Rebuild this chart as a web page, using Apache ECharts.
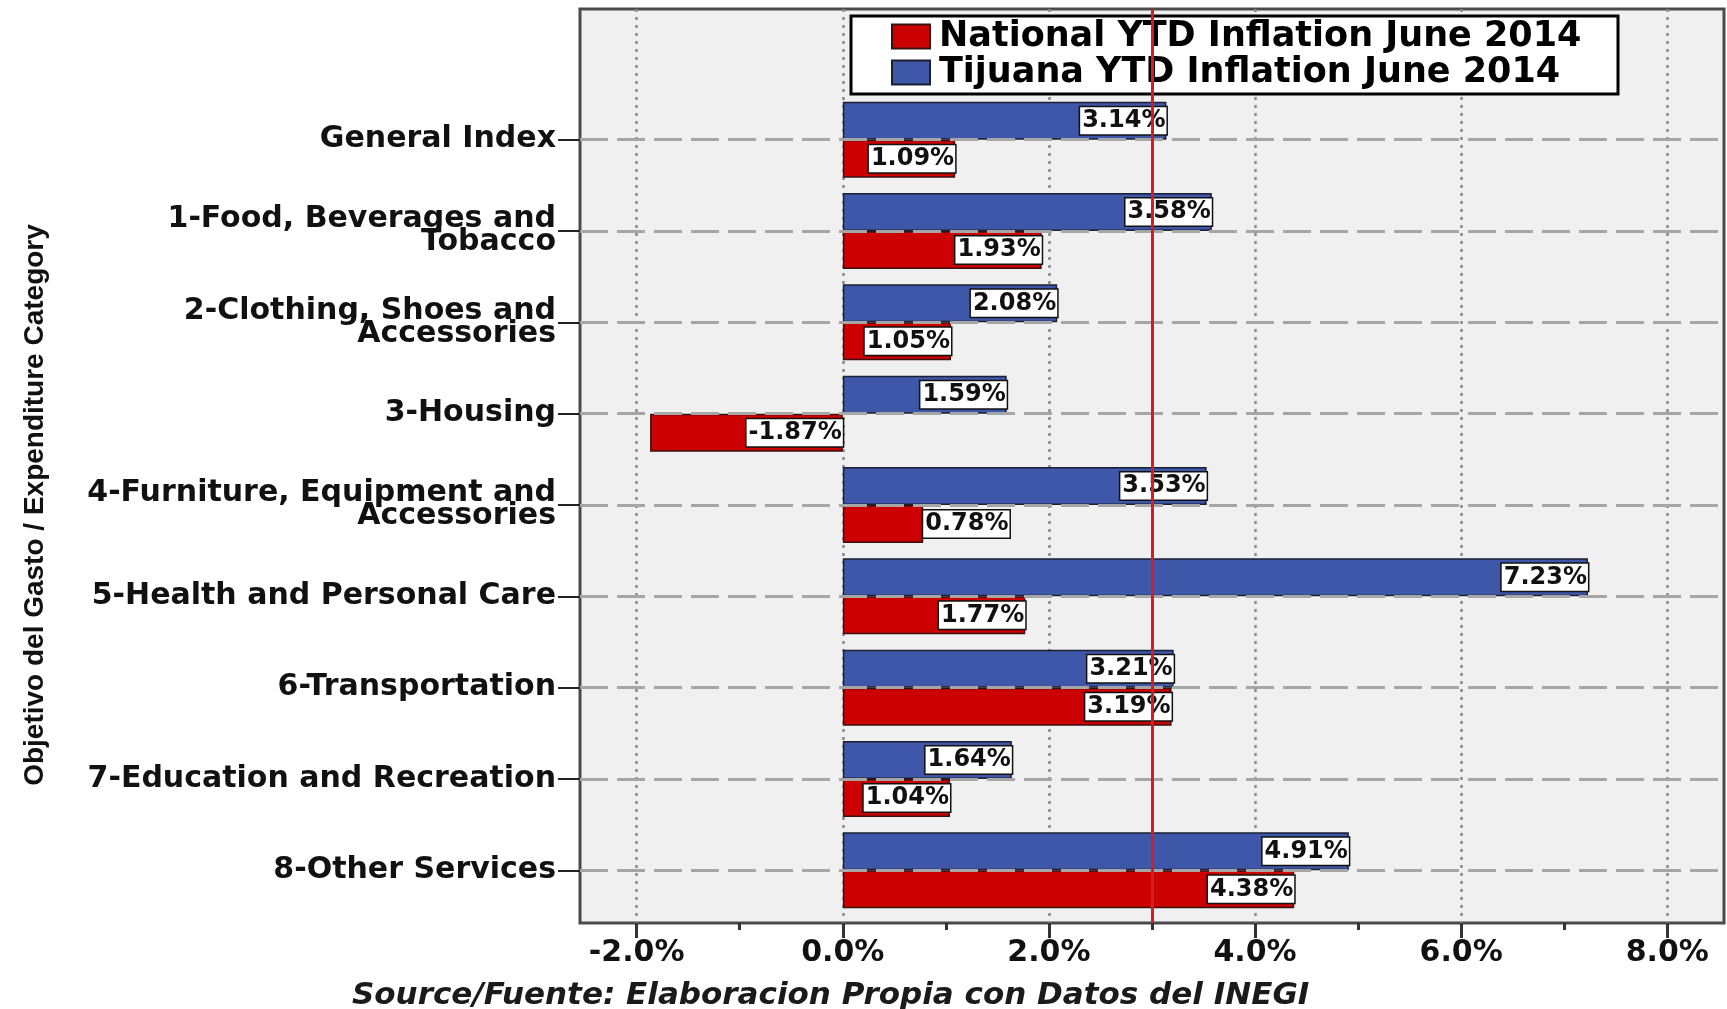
<!DOCTYPE html>
<html><head><meta charset="utf-8">
<script src="https://cdn.jsdelivr.net/npm/echarts@6/dist/echarts.min.js"></script>
<style>html,body{margin:0;padding:0;background:#fff}#c{width:1727px;height:1009px}</style>
</head><body><div id="c"></div>
<script>
const categories = [
  'General Index',
  '1-Food, Beverages and\nTobacco',
  '2-Clothing, Shoes and\nAccessories',
  '3-Housing',
  '4-Furniture, Equipment and\nAccessories',
  '5-Health and Personal Care',
  '6-Transportation',
  '7-Education and Recreation',
  '8-Other Services'
];
const nationalValues = [1.09, 1.93, 1.05, -1.87, 0.78, 1.77, 3.19, 1.04, 4.38];
const tijuanaValues  = [3.14, 3.58, 2.08, 1.59, 3.53, 7.23, 3.21, 1.64, 4.91];
const xTickLabels = [-2, 0, 2, 4, 6, 8];
const xMinorTicks = [-1, 1, 3, 5, 7];
const targetLine = 3.0;
const nationalName = 'National YTD Inflation June 2014';
const tijuanaName = 'Tijuana YTD Inflation June 2014';
const sourceText = 'Source/Fuente: Elaboracion Propia con Datos del INEGI';
const yAxisTitle = 'Objetivo del Gasto / Expenditure Category';

const FONT = '"DejaVu Sans", sans-serif';
const legendFontSize = 35;
const cv = document.createElement('canvas').getContext('2d');
cv.font = 'bold ' + legendFontSize + 'px "DejaVu Sans"';
const legendTextW = Math.max(cv.measureText(nationalName).width, cv.measureText(tijuanaName).width);
const legendBoxW = 766, legendPadL = 40, legendIconW = 38;
const legendPadR = Math.max(6, legendBoxW - legendPadL - legendIconW - 9 - legendTextW);

const labelStyle = {
  show: true, position: 'insideRight', distance: 0,
  formatter: p => p.value.toFixed(2) + '%',
  backgroundColor: '#ffffff', borderColor: '#111', borderWidth: 1.5,
  padding: [3, 1, 0, 2],
  fontFamily: FONT, fontWeight: 'bold', fontSize: 24, color: '#111'
};
function toData(vals) {
  return vals.map(v => Math.abs(v) < 0.9 ? { value: v, label: { position: 'right' } } : v);
}

const chart = echarts.init(document.getElementById('c'), null, { renderer: 'canvas' });
chart.setOption({
  animation: false,
  backgroundColor: '#ffffff',
  title: {
    text: sourceText, left: 352, top: 980, padding: 0,
    textStyle: { fontFamily: FONT, fontStyle: 'italic', fontWeight: 'bold', fontSize: 31, color: '#1a1a1a' }
  },
  legend: {
    data: [nationalName, tijuanaName],
    orient: 'vertical', left: 851, top: 16,
    backgroundColor: '#ffffff', borderColor: '#000', borderWidth: 3,
    padding: [3, legendPadR, 4, legendPadL],
    itemWidth: legendIconW, itemHeight: 24, itemGap: 1, icon: 'rect',
    textStyle: { fontFamily: FONT, fontWeight: 'bold', fontSize: legendFontSize, color: '#000', lineHeight: 32, padding: [0, 0, 0, 4] }
  },
  grid: [
    { left: 580, right: 3, top: 9, bottom: 86, show: true, backgroundColor: '#f0f0f0', borderColor: '#4a4a4a', borderWidth: 3 },
    { left: 580, right: 3, top: 94, bottom: 93 }
  ],
  xAxis: [
    {
      gridIndex: 0, type: 'value', position: 'bottom', min: -2.55, max: 8.55,
      axisLine: { show: false, onZero: false },
      axisTick: { show: true, customValues: xTickLabels, length: 15, lineStyle: { color: '#333', width: 3 } },
      axisLabel: { customValues: xTickLabels, formatter: v => v.toFixed(1) + '%', margin: 15,
        fontFamily: FONT, fontWeight: 'bold', fontSize: 30, color: '#111' },
      splitLine: { show: true, lineStyle: { color: '#888888', width: 2.5, type: [3, 5] } }
    },
    {
      gridIndex: 0, type: 'value', position: 'bottom', min: -2.55, max: 8.55,
      axisLine: { show: false, onZero: false },
      axisTick: { show: true, customValues: xMinorTicks, length: 7, lineStyle: { color: '#333', width: 3 } },
      axisLabel: { show: false },
      splitLine: { show: false }
    },
    { gridIndex: 1, type: 'value', min: -2.55, max: 8.55, show: false }
  ],
  yAxis: [
    { gridIndex: 0, type: 'value', min: 0, max: 1, show: false },
    {
      gridIndex: 1, type: 'category', data: categories, inverse: true, position: 'left',
      axisLine: { show: false, onZero: false },
      axisTick: { show: true, alignWithLabel: true, length: 22, lineStyle: { color: '#222', width: 2 } },
      axisLabel: { margin: 24, fontFamily: FONT, fontWeight: 'bold', fontSize: 30, lineHeight: 23, color: '#111', align: 'right' },
      splitLine: { show: false },
      name: yAxisTitle, nameLocation: 'middle', nameRotate: 90, nameGap: 531,
      nameTextStyle: { fontFamily: '"Liberation Sans", Arial, sans-serif', fontWeight: 'bold', fontSize: 28, color: '#111' }
    }
  ],
  series: [
    {
      type: 'line', xAxisIndex: 2, yAxisIndex: 1, data: [], z: 1, silent: true,
      markLine: {
        symbol: 'none', silent: true, label: { show: false },
        lineStyle: { color: '#a6a6a6', width: 3, type: [28, 9] },
        data: categories.map((c, i) => ({ yAxis: i }))
      }
    },
    {
      name: tijuanaName, type: 'bar', xAxisIndex: 2, yAxisIndex: 1, z: 3,
      data: toData(tijuanaValues), barWidth: 38, barGap: '0%',
      itemStyle: { color: '#3e57a8', borderColor: '#1b1f33', borderWidth: 1.5 },
      label: labelStyle
    },
    {
      name: nationalName, type: 'bar', xAxisIndex: 2, yAxisIndex: 1, z: 3,
      data: toData(nationalValues), barWidth: 38, barGap: '0%',
      itemStyle: { color: '#cc0000', borderColor: '#3a1010', borderWidth: 1.5 },
      label: labelStyle
    },
    {
      type: 'line', xAxisIndex: 0, yAxisIndex: 0, data: [], z: 10, silent: true,
      markLine: {
        symbol: 'none', silent: true, label: { show: false },
        lineStyle: { color: '#d41c24', width: 3, type: 'solid' },
        data: [{ xAxis: targetLine }]
      }
    }
  ]
});
</script>
</body></html>
